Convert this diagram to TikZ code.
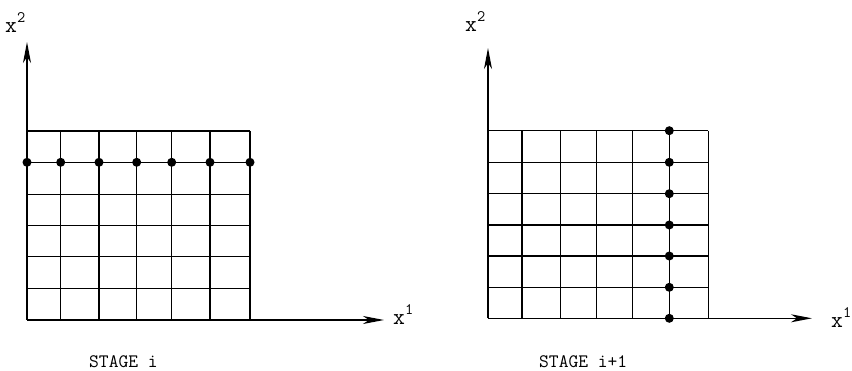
\documentclass[tikz,border=0pt]{standalone}
\usetikzlibrary{arrows.meta}
\newcommand{\xsup}[1]{\fontsize{23}{26}\selectfont x\raisebox{10pt}{\fontsize{16}{16}\selectfont #1}}
\begin{document}
\begin{tikzpicture}[
  x=1pt, y=-1pt,
  gridline/.style={line width=1.3pt},
  axis/.style={line width=1.3pt, -{Stealth[length=21pt, width=8pt, inset=6pt]}},
  dot/.style={fill=black, circle, inner sep=0pt, minimum size=9pt},
  lab/.style={anchor=base west, inner sep=0pt, font=\fontsize{19}{22}\selectfont\ttfamily}
]
  \useasboundingbox (0,0) rectangle (852,371);

  % stage i
  \coordinate (oA) at (27,320);
  \coordinate (yA) at (27,42);
  \coordinate (xA) at (384,320);
  \foreach \y in {131,162.3,194.3,225.7,256.7,288.3}
    \draw[gridline] (27,\y) -- (250,\y);
  \foreach \x in {60.7,99,136.7,171.7,210,250}
    \draw[gridline] (\x,131) -- (\x,320);
  \draw[axis] (oA) -- (yA);
  \draw[axis] (oA) -- (xA);
  \foreach \x [count=\i] in {27,60.7,99,136.7,171.7,210,250}
    \node[dot] (a\i) at (\x,162.3) {};
  \node[lab] (ax2) at (5,33) {\xsup{2}};
  \node[lab] (ax1) at (393,325) {\xsup{1}};
  \node[lab] (stA) at (89,368) {STAGE i};

  % stage i+1
  \coordinate (oB) at (488,318.3);
  \coordinate (yB) at (488,48);
  \coordinate (xB) at (812,318.3);
  \foreach \y in {130.7,162.3,193.7,225,256,287.3}
    \draw[gridline] (488,\y) -- (708.3,\y);
  \foreach \x in {522,560.7,596.7,632.7,669.3,708.3}
    \draw[gridline] (\x,130.7) -- (\x,318.3);
  \draw[axis] (oB) -- (yB);
  \draw[axis] (oB) -- (xB);
  \foreach \y [count=\i] in {130.7,162.3,193.7,225,256,287.3,318.3}
    \node[dot] (b\i) at (669.3,\y) {};
  \node[lab] (bx2) at (465,32) {\xsup{2}};
  \node[lab] (bx1) at (831,328) {\xsup{1}};
  \node[lab] (stB) at (539,368) {STAGE i+1};
\end{tikzpicture}
\end{document}
